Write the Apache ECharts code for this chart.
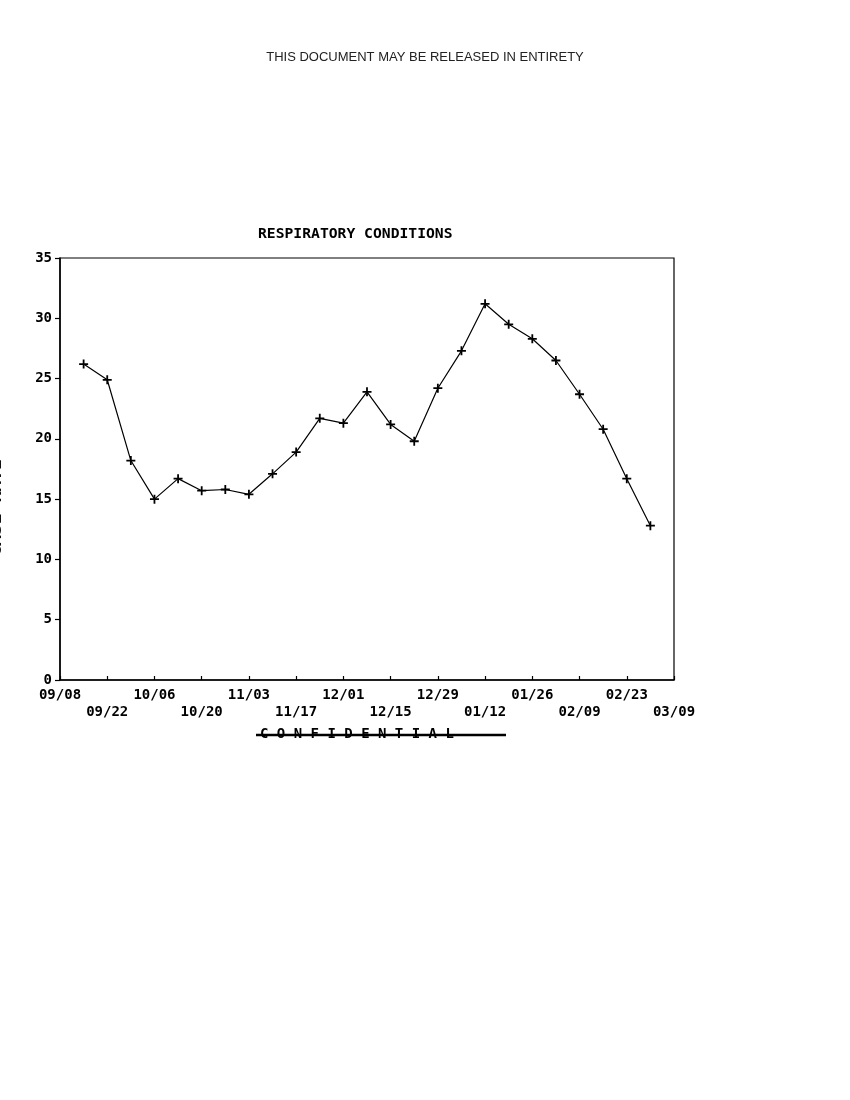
<!DOCTYPE html>
<html>
<head>
<meta charset="utf-8">
<script src="https://cdn.jsdelivr.net/npm/echarts@6/dist/echarts.min.js"></script>
<style>
html,body{margin:0;padding:0;background:#fff;}
#chart{width:850px;height:1100px;}
</style>
</head>
<body>
<div id="chart"></div>
<script>
var headerText = 'THIS DOCUMENT MAY BE RELEASED IN ENTIRETY';
var titleText = 'RESPIRATORY CONDITIONS';
var yAxisName = 'CASE RATE';
var footerText = 'C O N F I D E N T I A L';

var weeks = ['09/08','09/15','09/22','09/29','10/06','10/13','10/20','10/27','11/03','11/10',
  '11/17','11/24','12/01','12/08','12/15','12/22','12/29','01/05','01/12','01/19',
  '01/26','02/02','02/09','02/16','02/23','03/02','03/09'];
var caseRate = [null, 26.2, 24.9, 18.2, 15.0, 16.7, 15.7, 15.8, 15.4, 17.1,
  18.9, 21.7, 21.3, 23.9, 21.2, 19.8, 24.2, 27.3, 31.2, 29.5,
  28.3, 26.5, 23.7, 20.8, 16.7, 12.8, null];
var yTicks = [0, 5, 10, 15, 20, 25, 30, 35];

var mono = '"DejaVu Sans Mono", "Liberation Mono", monospace';
var chart = echarts.init(document.getElementById('chart'), null, {renderer: 'canvas'});
chart.setOption({
  backgroundColor: '#ffffff',
  animation: false,
  grid: {left: 60, right: 176, top: 258, bottom: 420, show: true, borderColor: '#000', borderWidth: 1.2, backgroundColor: 'transparent'},
  xAxis: {
    type: 'category',
    data: weeks,
    boundaryGap: false,
    axisLine: {lineStyle: {color: '#000', width: 1.5}},
    axisTick: {interval: 1, length: 4, inside: true, lineStyle: {color: '#000', width: 1.2}},
    axisLabel: {
      interval: 1,
      color: '#000',
      fontFamily: mono,
      fontWeight: 'bold',
      fontSize: 14,
      lineHeight: 17,
      margin: 7,
      formatter: function (v, i) { return (i % 4 === 2) ? '\n' + v : v; }
    },
    splitLine: {show: false}
  },
  yAxis: {
    type: 'value',
    min: yTicks[0],
    max: yTicks[yTicks.length - 1],
    interval: 5,
    axisLine: {show: true, lineStyle: {color: '#000', width: 1.5}},
    axisTick: {show: true, length: 5, lineStyle: {color: '#000', width: 1.2}},
    axisLabel: {color: '#000', fontFamily: mono, fontWeight: 'bold', fontSize: 14, margin: 8},
    splitLine: {show: false}
  },
  series: [{
    type: 'line',
    data: caseRate,
    connectNulls: false,
    symbol: 'path://M4,0H6V4H10V6H6V10H4V6H0V4H4Z',
    symbolSize: 9,
    showAllSymbol: true,
    itemStyle: {color: '#000'},
    lineStyle: {color: '#000', width: 1.2}
  }],
  graphic: [
    {type: 'text', left: 'center', top: 51, style: {text: headerText, fontFamily: '"Liberation Sans", Arial, sans-serif', fontSize: 13, fill: '#222'}},
    {type: 'text', left: 258, top: 227, style: {text: titleText, fontFamily: mono, fontWeight: 'bold', fontSize: 14.7, fill: '#000'}},
    {type: 'text', x: -4, y: 508, rotation: Math.PI / 2, style: {text: yAxisName, fontFamily: mono, fontWeight: 'bold', fontSize: 18, fill: '#111', align: 'center', verticalAlign: 'middle'}},
    {type: 'text', left: 260, top: 727, style: {text: footerText, fontFamily: mono, fontWeight: 'bold', fontSize: 14, fill: '#000'}},
    {type: 'line', shape: {x1: 256, y1: 735, x2: 506, y2: 735}, style: {stroke: '#000', lineWidth: 2.5}}
  ]
});
</script>
</body>
</html>
